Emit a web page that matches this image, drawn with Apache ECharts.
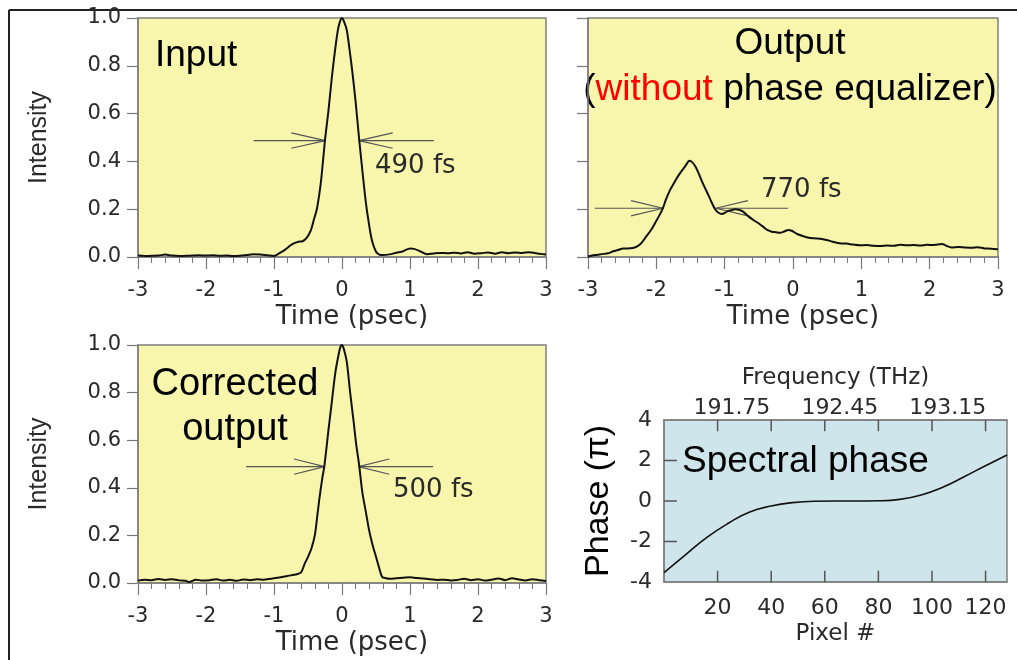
<!DOCTYPE html>
<html>
<head>
<meta charset="utf-8">
<script src="https://cdn.jsdelivr.net/npm/echarts@6/dist/echarts.min.js"></script>
<style>
  html, body { margin: 0; padding: 0; background: #ffffff; }
  #chart { width: 1017px; height: 660px; }
</style>
</head>
<body>
<div id="chart"></div>
<script>
// Pulse intensity traces: [time (psec), normalised intensity]
const inputPulse = [
  [-3.0,0.006],[-2.9,0.004],[-2.8,0.005],[-2.7,0.006],[-2.6,0.010],[-2.5,0.006],[-2.4,0.004],
  [-2.3,0.005],[-2.2,0.006],[-2.1,0.007],[-2.0,0.006],[-1.9,0.007],[-1.8,0.005],[-1.7,0.006],
  [-1.6,0.004],[-1.5,0.005],[-1.4,0.008],[-1.3,0.011],[-1.2,0.010],[-1.1,0.007],[-1.0,0.004],
  [-0.92,0.016],[-0.84,0.030],[-0.76,0.048],[-0.70,0.058],[-0.64,0.064],[-0.58,0.066],
  [-0.52,0.080],[-0.46,0.110],[-0.41,0.160],[-0.37,0.200],[-0.33,0.270],[-0.30,0.340],
  [-0.25,0.490],[-0.20,0.610],[-0.15,0.750],[-0.10,0.870],[-0.06,0.950],[-0.03,0.985],
  [0.0,1.000],[0.03,0.985],[0.07,0.950],[0.11,0.870],[0.15,0.780],[0.20,0.650],[0.25,0.500],
  [0.30,0.360],[0.35,0.230],[0.39,0.150],[0.44,0.070],[0.50,0.022],[0.55,0.010],[0.60,0.008],
  [0.70,0.011],[0.80,0.018],[0.90,0.024],[1.00,0.036],[1.06,0.034],[1.15,0.024],[1.25,0.012],
  [1.35,0.015],[1.45,0.017],[1.55,0.016],[1.65,0.018],[1.75,0.015],[1.85,0.020],[1.95,0.014],
  [2.05,0.016],[2.15,0.019],[2.25,0.014],[2.35,0.020],[2.45,0.016],[2.55,0.019],[2.65,0.017],
  [2.75,0.020],[2.85,0.016],[2.95,0.012],[3.0,0.010]
];

const uncorrectedPulse = [
  [-3.0,0.002],[-2.9,0.008],[-2.8,0.012],[-2.7,0.016],[-2.63,0.024],[-2.55,0.030],[-2.49,0.036],
  [-2.42,0.036],[-2.34,0.038],[-2.28,0.044],[-2.22,0.058],[-2.15,0.085],[-2.08,0.112],
  [-2.02,0.141],[-1.96,0.172],[-1.91,0.200],[-1.86,0.240],[-1.80,0.280],[-1.75,0.305],
  [-1.70,0.330],[-1.65,0.352],[-1.60,0.371],[-1.55,0.392],[-1.52,0.403],[-1.48,0.398],
  [-1.43,0.380],[-1.38,0.350],[-1.34,0.322],[-1.29,0.290],[-1.24,0.260],[-1.19,0.228],
  [-1.14,0.200],[-1.09,0.185],[-1.04,0.180],[-0.99,0.186],[-0.95,0.193],[-0.90,0.196],
  [-0.85,0.200],[-0.78,0.197],[-0.73,0.190],[-0.66,0.172],[-0.58,0.155],[-0.50,0.140],
  [-0.43,0.125],[-0.37,0.112],[-0.31,0.106],[-0.25,0.104],[-0.19,0.101],[-0.12,0.108],
  [-0.07,0.113],[-0.02,0.110],[0.05,0.098],[0.12,0.090],[0.20,0.083],[0.30,0.078],
  [0.40,0.076],[0.49,0.071],[0.58,0.064],[0.68,0.058],[0.78,0.056],[0.88,0.052],[0.98,0.049],
  [1.08,0.050],[1.18,0.047],[1.28,0.046],[1.38,0.048],[1.48,0.047],[1.57,0.051],[1.66,0.049],
  [1.76,0.050],[1.86,0.048],[1.96,0.051],[2.06,0.050],[2.18,0.054],[2.25,0.046],[2.32,0.040],
  [2.42,0.042],[2.52,0.040],[2.62,0.039],[2.70,0.041],[2.80,0.036],[2.90,0.035],[3.00,0.032]
];

const correctedPulse = [
  [-3.0,0.010],[-2.9,0.014],[-2.8,0.012],[-2.7,0.017],[-2.6,0.013],[-2.5,0.016],[-2.4,0.011],
  [-2.3,0.009],[-2.25,0.004],[-2.15,0.014],[-2.05,0.010],[-1.95,0.012],[-1.85,0.016],
  [-1.75,0.010],[-1.65,0.014],[-1.55,0.009],[-1.45,0.015],[-1.35,0.012],[-1.25,0.016],
  [-1.15,0.014],[-1.05,0.018],[-0.95,0.022],[-0.85,0.027],[-0.75,0.032],[-0.65,0.038],
  [-0.60,0.045],[-0.55,0.080],[-0.50,0.110],[-0.45,0.145],[-0.40,0.200],[-0.36,0.290],
  [-0.33,0.360],[-0.29,0.440],[-0.26,0.490],[-0.20,0.640],[-0.15,0.760],[-0.10,0.880],
  [-0.05,0.960],[-0.02,0.995],[0.0,1.000],[0.03,0.980],[0.07,0.930],[0.12,0.800],
  [0.17,0.680],[0.21,0.580],[0.25,0.500],[0.30,0.380],[0.35,0.300],[0.40,0.220],
  [0.45,0.160],[0.50,0.110],[0.55,0.060],[0.59,0.026],[0.65,0.020],[0.70,0.018],
  [0.80,0.020],[0.90,0.022],[1.00,0.024],[1.10,0.021],[1.20,0.019],[1.30,0.016],
  [1.40,0.013],[1.50,0.014],[1.60,0.011],[1.70,0.013],[1.80,0.018],[1.90,0.012],
  [2.00,0.016],[2.10,0.010],[2.20,0.014],[2.30,0.019],[2.40,0.012],[2.50,0.020],
  [2.60,0.015],[2.70,0.011],[2.80,0.016],[2.90,0.012],[3.00,0.008]
];

// Spectral phase (units of pi) applied across the pixel array
const phasePixels = [0, 8, 16, 24, 32, 40, 48, 56, 64, 72, 80, 88, 96, 104, 112, 120, 128];
const phaseValues = [-3.54, -2.66, -1.80, -1.10, -0.54, -0.25, -0.08, -0.01, 0.0, 0.0, 0.01, 0.08, 0.30, 0.68, 1.20, 1.74, 2.27];

// Pixel -> optical frequency calibration for the upper axis
const freqAtPixel0 = 191.31;   // THz
const freqPerPixel = 0.01737;  // THz per pixel
const freqLabels = [191.75, 192.45, 193.15];
const pixelTicks = [20, 40, 60, 80, 100, 120];
const phaseTicks = [-2, 0, 2];
const pixelToFreq = p => freqAtPixel0 + freqPerPixel * p;

// FWHM markers: [pulse centre (psec), FWHM (psec), level, left shaft start, right shaft end, head length]
const inputFwhm = [0.0, 0.49, 0.487, -1.30, 1.35, 0.50];
const uncorrectedFwhm = [-1.515, 0.77, 0.204, -2.90, -0.07, 0.47];
const correctedFwhm = [-0.005, 0.50, 0.489, -1.41, 1.34, 0.45];

const axisFont = 'DejaVu Sans';
const titleFont = 'Liberation Sans';
const inkColor = '#2a2a2a';
const plotYellow = '#F8F6AC';
const plotBlue = '#CDE5EB';
const frameGray = '#808080';
const tickGray = '#555555';

function timeAxisX(gi) {
  return {
    gridIndex: gi, type: 'value', min: -3, max: 3, interval: 1,
    name: 'Time (psec)', nameLocation: 'middle', nameGap: 47,
    nameTextStyle: { fontFamily: axisFont, fontSize: 26, color: inkColor, padding: [0, 0, 0, 20] },
    axisLine: { show: true, onZero: false, lineStyle: { color: frameGray, width: 1.5 } },
    axisTick: { show: true, length: 12, lineStyle: { color: '#777', width: 1.2 } },
    minorTick: { show: true, splitNumber: 5, length: 6, lineStyle: { color: '#777', width: 1 } },
    axisLabel: { fontFamily: axisFont, fontSize: 21, color: inkColor, margin: 23 },
    splitLine: { show: false }, minorSplitLine: { show: false }
  };
}

function intensityAxisY(gi, withLabels) {
  return {
    gridIndex: gi, type: 'value', min: 0, max: 1, interval: 0.2,
    name: withLabels ? 'Intensity' : '', nameLocation: 'middle', nameGap: 86,
    nameTextStyle: { fontFamily: titleFont, fontSize: 25, color: inkColor },
    axisLine: { show: true, onZero: false, lineStyle: { color: frameGray, width: 1.5 } },
    axisTick: { show: true, length: 11, lineStyle: { color: '#777', width: 1.2 } },
    axisLabel: { show: withLabels, fontFamily: axisFont, fontSize: 21, color: inkColor, margin: 17,
                 formatter: v => v.toFixed(1) },
    splitLine: { show: false }
  };
}

function traceSeries(gi, data) {
  return {
    type: 'line', xAxisIndex: gi, yAxisIndex: gi, data: data,
    showSymbol: false, smooth: 0.3, silent: true, z: 4,
    lineStyle: { color: '#111', width: 2 }
  };
}

function segmentSeries(gi, points, color, width) {
  return {
    type: 'line', xAxisIndex: gi, yAxisIndex: gi, data: points,
    showSymbol: false, silent: true, z: 3, clip: false,
    lineStyle: { color: color, width: width }
  };
}

function fwhmArrows(gi, spec) {
  const [centre, width, level, shaftL, shaftR, head] = spec;
  const l = centre - width / 2, r = centre + width / 2, d = 0.032;
  return [
    segmentSeries(gi, [[shaftL, level], [l, level]], '#555', 1.2),
    segmentSeries(gi, [[l - head, level + d], [l, level], [l - head, level - d]], '#555', 1.2),
    segmentSeries(gi, [[r, level], [shaftR, level]], '#555', 1.2),
    segmentSeries(gi, [[r + head, level + d], [r, level], [r + head, level - d]], '#555', 1.2)
  ];
}

// Inward tick marks on the phase frame, in axis units (about 11-13 px long)
const tickLenPhase = 0.55;   // along the phase axis
const tickLenPixel = 4.8;    // along the pixel axis
const phaseFrameTicks = []
  .concat(pixelTicks.map(p => [[p, -4], [p, -4 + tickLenPhase]]))
  .concat(pixelTicks.map(p => [[p, 4], [p, 4 - tickLenPhase]]))
  .concat(phaseTicks.map(v => [[0, v], [tickLenPixel, v]]));

const chart = echarts.init(document.getElementById('chart'), null, { renderer: 'canvas' });

const option = {
  animation: false,
  backgroundColor: '#ffffff',
  grid: [
    { left: 138, top: 18, width: 408, height: 239, show: true, backgroundColor: plotYellow, borderColor: frameGray, borderWidth: 1.5 },
    { left: 588, top: 18, width: 410, height: 239, show: true, backgroundColor: plotYellow, borderColor: frameGray, borderWidth: 1.5 },
    { left: 138, top: 345, width: 408, height: 238, show: true, backgroundColor: plotYellow, borderColor: frameGray, borderWidth: 1.5 },
    { left: 664, top: 420, width: 343, height: 162, show: true, backgroundColor: plotBlue, borderColor: frameGray, borderWidth: 1.5 }
  ],
  xAxis: [
    timeAxisX(0), timeAxisX(1), timeAxisX(2),
    {
      gridIndex: 3, type: 'value', min: 0, max: 128, position: 'bottom',
      name: 'Pixel #', nameLocation: 'middle', nameGap: 41,
      nameTextStyle: { fontFamily: axisFont, fontSize: 23, color: inkColor },
      axisLine: { show: true, onZero: false, lineStyle: { color: frameGray, width: 1.5 } },
      axisTick: { show: false },
      axisLabel: { fontFamily: axisFont, fontSize: 22, color: inkColor, margin: 15, customValues: pixelTicks },
      splitLine: { show: false }
    },
    {
      gridIndex: 3, type: 'value', position: 'top',
      min: pixelToFreq(0), max: pixelToFreq(128),
      name: 'Frequency (THz)', nameLocation: 'middle', nameGap: 30,
      nameTextStyle: { fontFamily: axisFont, fontSize: 23, color: inkColor },
      axisLine: { show: true, onZero: false, lineStyle: { color: frameGray, width: 1.5 } },
      axisTick: { show: false },
      axisLabel: { fontFamily: axisFont, fontSize: 22, color: inkColor, margin: 1,
                   customValues: freqLabels, formatter: v => v.toFixed(2) },
      splitLine: { show: false }
    }
  ],
  yAxis: [
    intensityAxisY(0, true), intensityAxisY(1, false), intensityAxisY(2, true),
    {
      gridIndex: 3, type: 'value', min: -4, max: 4, interval: 2,
      name: 'Phase (π)', nameLocation: 'middle', nameGap: 48,
      nameTextStyle: { fontFamily: titleFont, fontSize: 34, color: '#000' },
      axisLine: { show: true, onZero: false, lineStyle: { color: frameGray, width: 1.5 } },
      axisTick: { show: false },
      axisLabel: { fontFamily: axisFont, fontSize: 22, color: inkColor, margin: 12 },
      splitLine: { show: false }
    }
  ],
  series: [
    traceSeries(0, inputPulse),
    traceSeries(1, uncorrectedPulse),
    traceSeries(2, correctedPulse),
    {
      type: 'line', xAxisIndex: 3, yAxisIndex: 3, smooth: true, showSymbol: false, silent: true, z: 4,
      data: phasePixels.map((p, i) => [p, phaseValues[i]]),
      lineStyle: { color: '#111', width: 1.6 }
    }
  ]
  .concat(phaseFrameTicks.map(seg => segmentSeries(3, seg, tickGray, 1.5)))
  .concat(fwhmArrows(0, inputFwhm), fwhmArrows(1, uncorrectedFwhm), fwhmArrows(2, correctedFwhm)),
  graphic: [
    { type: 'line', shape: { x1: 9, y1: 10, x2: 1017, y2: 10 }, style: { stroke: '#222', lineWidth: 2 }, silent: true },
    { type: 'line', shape: { x1: 9, y1: 10, x2: 9, y2: 660 }, style: { stroke: '#222', lineWidth: 2 }, silent: true },
    { type: 'text', x: 155, y: 56, style: { text: 'Input', fontFamily: titleFont, fontSize: 37, fill: '#000', align: 'left', verticalAlign: 'middle' } },
    { type: 'text', x: 790, y: 44, style: { text: 'Output', fontFamily: titleFont, fontSize: 37, fill: '#000', align: 'center', verticalAlign: 'middle' } },
    { type: 'text', x: 790, y: 90, style: {
        text: '({r|without} phase equalizer)', fontFamily: titleFont, fontSize: 37, fill: '#000',
        align: 'center', verticalAlign: 'middle',
        rich: { r: { fill: '#ff0000', fontFamily: titleFont, fontSize: 37 } } } },
    { type: 'text', x: 235, y: 385, style: { text: 'Corrected', fontFamily: titleFont, fontSize: 38, fill: '#000', align: 'center', verticalAlign: 'middle' } },
    { type: 'text', x: 235, y: 430, style: { text: 'output', fontFamily: titleFont, fontSize: 38, fill: '#000', align: 'center', verticalAlign: 'middle' } },
    { type: 'text', x: 682, y: 462, style: { text: 'Spectral phase', fontFamily: titleFont, fontSize: 37, fill: '#000', align: 'left', verticalAlign: 'middle' } },
    { type: 'text', x: 375, y: 166, style: { text: '490 fs', fontFamily: axisFont, fontSize: 26, fill: inkColor, align: 'left', verticalAlign: 'middle' } },
    { type: 'text', x: 761, y: 190, style: { text: '770 fs', fontFamily: axisFont, fontSize: 26, fill: inkColor, align: 'left', verticalAlign: 'middle' } },
    { type: 'text', x: 393, y: 490, style: { text: '500 fs', fontFamily: axisFont, fontSize: 26, fill: inkColor, align: 'left', verticalAlign: 'middle' } }
  ]
};

chart.setOption(option);
</script>
</body>
</html>
